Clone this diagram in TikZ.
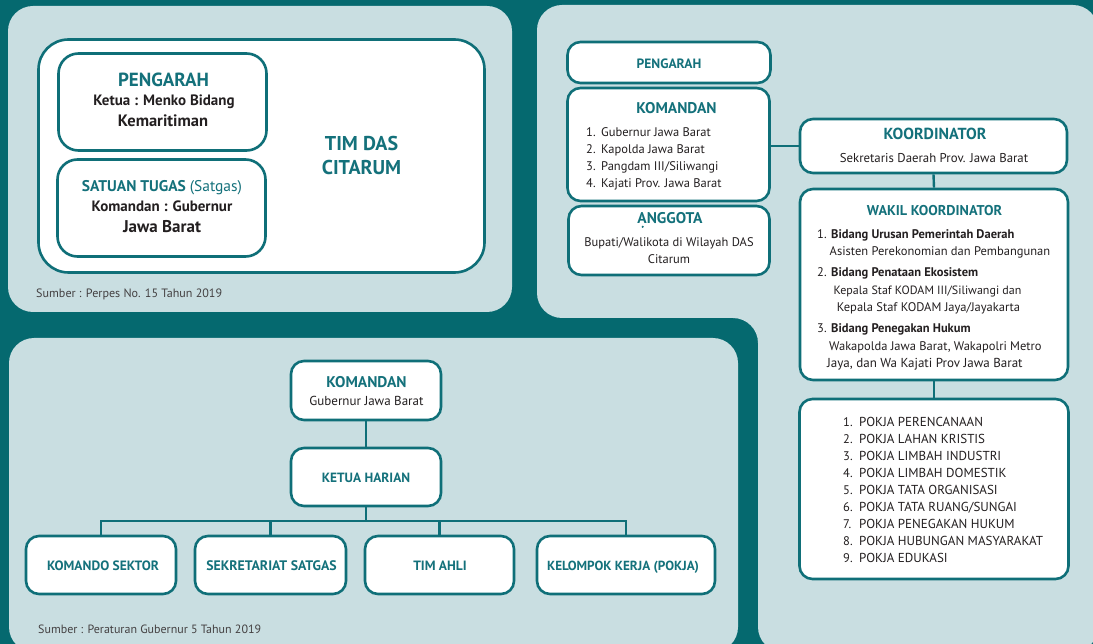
\documentclass[tikz,border=0pt]{standalone}
\usepackage{fontspec}
\setmainfont{PT Sans}
\usetikzlibrary{positioning}

\definecolor{dasbg}{HTML}{05696F}
\definecolor{daspanel}{HTML}{C9DEE1}
\definecolor{dasline}{HTML}{0F6F78}
\definecolor{dashead}{HTML}{14717B}
\definecolor{dasink}{HTML}{231F20}

\newcommand{\fsz}[1]{\fontsize{#1}{#1}\selectfont}

\tikzset{
  orgbox/.style={draw=dasline, line width=2.6pt, fill=white, rounded corners=13pt, inner sep=0pt},
  headtxt/.style={text=dashead, anchor=base, inner sep=0pt},
  bodytxt/.style={text=dasink, anchor=base, inner sep=0pt},
  link/.style={draw=dasline, line width=2.4pt},
}

\begin{document}
\begin{tikzpicture}[x=1pt, y=-1pt]
  \useasboundingbox (0,0) rectangle (1093,644);
  \clip (0,0) rectangle (1093,644);
  \fill[dasbg] (0,0) rectangle (1093,644);

  % panels
  \fill[daspanel, rounded corners=25pt] (8,6) rectangle (512,312);
  \fill[daspanel, rounded corners=25pt] (537,5) -- (1098,5) -- (1098,652) -- (758,652) -- (758,318) -- (537,318) -- cycle;
  \fill[daspanel, rounded corners=25pt] (9,338) rectangle (738,652);

  % panel 1: tim DAS Citarum
  \node[orgbox, rounded corners=30pt, minimum width=446pt, minimum height=233pt] (timdas) at (261.5,156) {};
  \node[orgbox, rounded corners=20pt, minimum width=208pt, minimum height=97pt] (pengarah1) at (162.5,102) {};
  \node[orgbox, rounded corners=20pt, minimum width=208pt, minimum height=97pt] (satgas1) at (161.5,208) {};

  \path (163.5,87)  node[headtxt, font=\bfseries\fsz{19}] (pengarah1-t) {PENGARAH}
        (164,106)   node[bodytxt, font=\bfseries\fsz{15}] (pengarah1-a) {Ketua : Menko Bidang}
        (163,127)   node[bodytxt, font=\bfseries\fsz{16.5}] (pengarah1-b) {Kemaritiman}
        (162,192)   node[headtxt, font=\bfseries\fsz{15.5}] (satgas1-t) {SATUAN TUGAS {\mdseries(Satgas)}}
        (162,212)   node[bodytxt, font=\bfseries\fsz{15}] (satgas1-a) {Komandan : Gubernur}
        (162,233)   node[bodytxt, font=\bfseries\fsz{17}] (satgas1-b) {Jawa Barat}
        (361.5,151) node[headtxt, font=\bfseries\fsz{20}] (timdas-a) {TIM DAS}
        (361.5,175) node[headtxt, font=\bfseries\fsz{20}] (timdas-b) {CITARUM}
        (36,298)    node[bodytxt, anchor=base west, text=dasink!85, font=\fsz{12.1}] (sumber1) {Sumber : Perpes No. 15 Tahun 2019};

  % panel 2: struktur satgas
  \node[orgbox, minimum width=203pt, minimum height=41pt] (pengarah2) at (669,62.5) {};
  \node[orgbox, minimum width=202pt, minimum height=113pt] (komandan2) at (668.5,144.5) {};
  \node[orgbox, minimum width=201pt, minimum height=69pt] (anggota2) at (669,240.5) {};
  \node[orgbox, minimum width=267pt, minimum height=54pt] (koord) at (933.5,146) {};
  \node[orgbox, minimum width=268pt, minimum height=191pt] (wakil) at (934,284.5) {};
  \node[orgbox, minimum width=269pt, minimum height=180pt] (pokja) at (934,489) {};

  \draw[link] (komandan2.east |- koord.west) -- (koord.west);
  \draw[link] (koord.south) -- (wakil.north);
  \draw[link] (wakil.south) -- (pokja.north);

  \path (669,69)    node[headtxt, font=\bfseries\fsz{13.5}] (pengarah2-t) {PENGARAH}
        (676.5,114) node[headtxt, font=\bfseries\fsz{15.5}] (komandan2-t) {KOMANDAN}
        (670,224)   node[headtxt, font=\bfseries\fsz{15.5}] (anggota2-t) {ANGGOTA}
        (669,247)   node[bodytxt, font=\fsz{12.5}] (anggota2-a) {Bupati/Walikota di Wilayah DAS}
        (669,264)   node[bodytxt, font=\fsz{12.5}] (anggota2-b) {Citarum}
        (935,140)   node[headtxt, font=\bfseries\fsz{16}] (koord-t) {KOORDINATOR}
        (934,163)   node[bodytxt, font=\fsz{12.8}] (koord-a) {Sekretaris Daerah Prov. Jawa Barat}
        (934.5,216) node[headtxt, font=\bfseries\fsz{14.2}] (wakil-t) {WAKIL KOORDINATOR};
  % stray dot under the A of ANGGOTA
  \fill[dashead] ([xshift=5.5pt, yshift=-2.8pt]anggota2-t.base west) circle (1.2pt);

  \foreach \n/\who [count=\i] in {1./{Gubernur Jawa Barat}, 2./{Kapolda Jawa Barat}, 3./{Pangdam III/Siliwangi}, 4./{Kajati Prov. Jawa Barat}}
    \path (586,120+17*\i) node[bodytxt, anchor=base west, font=\fsz{12.5}] (kom-n\i) {\n}
          (601,120+17*\i) node[bodytxt, anchor=base west, font=\fsz{12.5}] (kom-\i) {\who};

  \path (817,239)   node[bodytxt, anchor=base west, font=\fsz{12.5}] (wakil-1) {1. \textbf{Bidang Urusan Pemerintah Daerah}}
        (829.5,256) node[bodytxt, anchor=base west, font=\fsz{12.5}] (wakil-1a) {Asisten Perekonomian dan Pembangunan}
        (817,277)   node[bodytxt, anchor=base west, font=\fsz{12.5}] (wakil-2) {2. \textbf{Bidang Penataan Ekosistem}}
        (927.5,295) node[bodytxt, font=\fsz{12}] (wakil-2a) {Kepala Staf KODAM III/Siliwangi dan}
        (928.5,312) node[bodytxt, font=\fsz{12.5}] (wakil-2b) {Kepala Staf KODAM Jaya/Jayakarta}
        (817,333)   node[bodytxt, anchor=base west, font=\fsz{12.5}] (wakil-3) {3. \textbf{Bidang Penegakan Hukum}}
        (829,351)   node[bodytxt, anchor=base west, font=\fsz{12.5}] (wakil-3a) {Wakapolda Jawa Barat, Wakapolri Metro}
        (827,368)   node[bodytxt, anchor=base west, font=\fsz{13}] (wakil-3b) {Jaya, dan Wa Kajati Prov Jawa Barat};

  \foreach \job [count=\i] in {PERENCANAAN, LAHAN KRISTIS, LIMBAH INDUSTRI, LIMBAH DOMESTIK, TATA ORGANISASI, TATA RUANG/SUNGAI, PENEGAKAN HUKUM, HUBUNGAN MASYARAKAT, EDUKASI}
    \path (843,410+16.9*\i) node[bodytxt, anchor=base west, font=\fsz{12.5}] (pokja-n\i) {\i.}
          (859,410+16.9*\i) node[bodytxt, anchor=base west, font=\fsz{13}] (pokja-\i) {POKJA \job};

  % panel 3: satgas Citarum harum
  \node[orgbox, minimum width=150pt, minimum height=59pt] (komandan3) at (366,390.5) {};
  \node[orgbox, minimum width=150pt, minimum height=58pt] (ketua) at (366,477) {};
  \node[orgbox, minimum width=150pt, minimum height=58pt] (komando) at (101,565) {};
  \node[orgbox, minimum width=151pt, minimum height=58pt] (sekretariat) at (270.5,565) {};
  \node[orgbox, minimum width=149pt, minimum height=58pt] (timahli) at (439.5,565) {};
  \node[orgbox, minimum width=178pt, minimum height=58pt] (kelompok) at (626,565) {};
  \coordinate (bus) at (366,521);

  \draw[link] (komandan3) -- (ketua);
  \draw[link] (ketua.south) -- (bus);
  \draw[link] (komando.north) |- (bus) -| (kelompok.north);
  \foreach \b in {sekretariat, timahli}
    \draw[link] (\b.north) -- (\b.north |- bus);

  \path (366.5,388) node[headtxt, font=\bfseries\fsz{15.5}] (komandan3-t) {KOMANDAN}
        (366.5,406) node[bodytxt, font=\fsz{13}] (komandan3-a) {Gubernur Jawa Barat}
        (366,482)   node[headtxt, font=\bfseries\fsz{13.4}] (ketua-t) {KETUA HARIAN}
        (103,570)   node[headtxt, font=\bfseries\fsz{13.5}] (komando-t) {KOMANDO SEKTOR}
        (271.5,570) node[headtxt, font=\bfseries\fsz{13.8}] (sekretariat-t) {SEKRETARIAT SATGAS}
        (440,570)   node[headtxt, font=\bfseries\fsz{13.5}] (timahli-t) {TIM AHLI}
        (623,570)   node[headtxt, font=\bfseries\fsz{13.2}] (kelompok-t) {KELOMPOK KERJA (POKJA)}
        (38,633)    node[bodytxt, anchor=base west, text=dasink!85, font=\fsz{12}] (sumber3) {Sumber : Peraturan Gubernur 5 Tahun 2019};
\end{tikzpicture}
\end{document}
